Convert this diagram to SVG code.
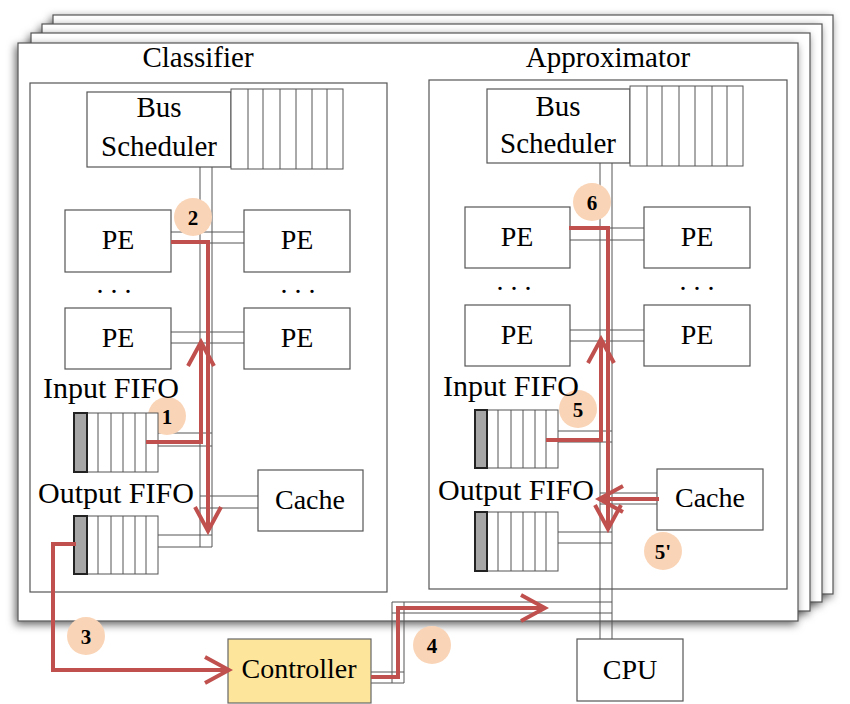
<svg xmlns="http://www.w3.org/2000/svg" width="850" height="704" viewBox="0 0 850 704">
<defs>
<filter id="sh" x="-10%" y="-10%" width="120%" height="120%">
<feDropShadow dx="-2" dy="3" stdDeviation="4" flood-color="#000" flood-opacity="0.6"/>
</filter>
<marker id="ah" markerUnits="userSpaceOnUse" markerWidth="32" markerHeight="32" viewBox="0 0 32 32" refX="28" refY="15" orient="auto">
<path d="M4,2 L28,15 L4,28" fill="none" stroke="#c0504d" stroke-width="4" stroke-linejoin="miter"/>
</marker>
<style>
text{font-family:"Liberation Serif","Times New Roman",serif;fill:#000}
.frame{fill:#fff;stroke:#555;stroke-width:1.2;filter:url(#sh)}
.panel{fill:#fff;stroke:#555;stroke-width:1.2}
.box{fill:#fff;stroke:#555;stroke-width:1.2}
.cell{fill:#fff;stroke:#555;stroke-width:1}
.head{fill:#a6a6a6;stroke:#222;stroke-width:2}
.ln{stroke:#555;stroke-width:1;fill:none}
.red{stroke:#c0504d;stroke-width:4;fill:none}
.t{font-size:29px}
.f{font-size:30px}
.pe{font-size:28px;text-anchor:middle}
.c{text-anchor:middle}
.badge{fill:#fad4b6}
.bt{font-size:21px;font-weight:bold;text-anchor:middle}
</style>
</defs>
<rect width="850" height="704" fill="#fff"/>

<g id="frames">
<rect class="frame" x="53" y="15" width="780" height="579"/>
<rect class="frame" x="42" y="24" width="780" height="578"/>
<rect class="frame" x="31" y="33" width="779" height="578"/>
<rect class="frame" x="18" y="43" width="780" height="578"/>
</g>

<g id="classifier">
<rect class="panel" x="30" y="83" width="357" height="509"/>
<text class="t c" x="198" y="67">Classifier</text>
</g>
<g id="approximator">
<rect class="panel" x="429" y="80" width="358" height="509"/>
<text class="t c" x="608" y="67">Approximator</text>
</g>

<g id="connectors">
<path class="ln" d="M200,167 V547 M212,167 V547"/>
<path class="ln" d="M171,232 H244 M171,243 H244 M171,332 H244 M171,343 H244"/>
<path class="ln" d="M158,433 H212 M158,446 H212 M200,496 H258 M200,508 H258 M158,535 H212 M158,547 H212"/>
<path class="ln" d="M600,163 V639 M612,163 V639"/>
<path class="ln" d="M570,228 H644 M570,240 H644 M570,330 H644 M570,341 H644"/>
<path class="ln" d="M558,431 H612 M558,442 H612 M600,493 H657 M600,504 H657 M558,532 H612 M558,543 H612"/>
<path class="ln" d="M392,602 V683 M404,602 V683 M392,602 H612 M392,613 H612 M371,672 H404 M371,683 H404"/>
</g>

<g id="badges">
<g id="b1"><circle class="badge" cx="167" cy="416" r="19"/><text class="bt" x="167" y="424">1</text></g>
<g id="b2"><circle class="badge" cx="193" cy="217" r="19"/><text class="bt" x="193" y="225">2</text></g>
<g id="b3"><circle class="badge" cx="86" cy="636" r="19"/><text class="bt" x="86" y="644">3</text></g>
<g id="b4"><circle class="badge" cx="432" cy="645" r="19"/><text class="bt" x="432" y="653">4</text></g>
<g id="b5"><circle class="badge" cx="578" cy="409" r="19"/><text class="bt" x="578" y="417">5</text></g>
<g id="b5p"><circle class="badge" cx="663" cy="551" r="19"/><text class="bt" x="663" y="559">5'</text></g>
<g id="b6"><circle class="badge" cx="592" cy="202" r="19"/><text class="bt" x="592" y="210">6</text></g>
</g>

<g id="c-bus-scheduler">
<rect class="box" x="87" y="92" width="144" height="75"/>
<text class="t c" x="159" y="117">Bus</text>
<text class="t c" x="159" y="156">Scheduler</text>
<rect class="cell" x="231" y="89" width="112" height="80"/>
<path class="ln" d="M248,89 V169 M263,89 V169 M280,89 V169 M296,89 V169 M312,89 V169 M327,89 V169"/>
</g>
<g id="c-pe1"><rect class="box" x="65" y="210" width="106" height="62"/><text class="pe" x="118" y="249">PE</text></g>
<g id="c-pe2"><rect class="box" x="244" y="210" width="106" height="62"/><text class="pe" x="297" y="249">PE</text></g>
<g id="c-dots"><text class="pe" x="114" y="293">. . .</text><text class="pe" x="298" y="293">. . .</text></g>
<g id="c-pe3"><rect class="box" x="65" y="308" width="106" height="61"/><text class="pe" x="118" y="347">PE</text></g>
<g id="c-pe4"><rect class="box" x="244" y="308" width="106" height="61"/><text class="pe" x="297" y="347">PE</text></g>
<g id="c-input-fifo">
<text class="f" x="43" y="398">Input FIFO</text>
<rect class="cell" x="87" y="413" width="71" height="59"/>
<path class="ln" d="M98,413 V472 M111,413 V472 M123,413 V472 M135,413 V472 M146,413 V472"/>
<rect class="head" x="74" y="413" width="13" height="59"/>
</g>
<g id="c-output-fifo">
<text class="f" x="38" y="503">Output FIFO</text>
<rect class="cell" x="87" y="516" width="71" height="58"/>
<path class="ln" d="M98,516 V574 M111,516 V574 M123,516 V574 M135,516 V574 M146,516 V574"/>
<rect class="head" x="74" y="516" width="13" height="58"/>
</g>
<g id="c-cache"><rect class="box" x="258" y="470" width="105" height="61"/><text class="pe" x="310" y="509">Cache</text></g>

<g id="a-bus-scheduler">
<rect class="box" x="487" y="89" width="143" height="74"/>
<text class="t c" x="558" y="116">Bus</text>
<text class="t c" x="558" y="153">Scheduler</text>
<rect class="cell" x="630" y="86" width="113" height="80"/>
<path class="ln" d="M647,86 V166 M662,86 V166 M679,86 V166 M695,86 V166 M712,86 V166 M727,86 V166"/>
</g>
<g id="a-pe1"><rect class="box" x="465" y="207" width="105" height="61"/><text class="pe" x="517" y="246">PE</text></g>
<g id="a-pe2"><rect class="box" x="644" y="207" width="106" height="61"/><text class="pe" x="697" y="246">PE</text></g>
<g id="a-dots"><text class="pe" x="514" y="290">. . .</text><text class="pe" x="697" y="290">. . .</text></g>
<g id="a-pe3"><rect class="box" x="465" y="305" width="105" height="61"/><text class="pe" x="517" y="344">PE</text></g>
<g id="a-pe4"><rect class="box" x="644" y="305" width="106" height="61"/><text class="pe" x="697" y="344">PE</text></g>
<g id="a-input-fifo">
<text class="f" x="443" y="396">Input FIFO</text>
<rect class="cell" x="487" y="410" width="71" height="58"/>
<path class="ln" d="M498,410 V468 M511,410 V468 M523,410 V468 M535,410 V468 M546,410 V468"/>
<rect class="head" x="475" y="410" width="12" height="58"/>
</g>
<g id="a-output-fifo">
<text class="f" x="438" y="500">Output FIFO</text>
<rect class="cell" x="487" y="512" width="71" height="59"/>
<path class="ln" d="M498,512 V571 M511,512 V571 M523,512 V571 M535,512 V571 M546,512 V571"/>
<rect class="head" x="475" y="512" width="12" height="59"/>
</g>
<g id="a-cache"><rect class="box" x="657" y="469" width="106" height="61"/><text class="pe" x="710" y="507">Cache</text></g>

<g id="controller"><rect x="228" y="639" width="143" height="64" fill="#fde69b" stroke="#666" stroke-width="1.2"/><text class="pe" x="299" y="678">Controller</text></g>
<g id="cpu"><rect class="box" x="577" y="639" width="106" height="62"/><text class="pe" x="630" y="679">CPU</text></g>

<g id="flow">
<path class="red" marker-end="url(#ah)" d="M171,242 H208 V531"/>
<path class="red" marker-end="url(#ah)" d="M146,442 H201 V342"/>
<path class="red" marker-end="url(#ah)" d="M76,544 H53 V670 H229"/>
<path class="red" marker-end="url(#ah)" d="M371,677 H398 V608 H545"/>
<path class="red" marker-end="url(#ah)" d="M569,228 H608 V529"/>
<path class="red" marker-end="url(#ah)" d="M546,440 H601 V339"/>
<path class="red" marker-end="url(#ah)" d="M659,499 H599"/>
</g>
</svg>
